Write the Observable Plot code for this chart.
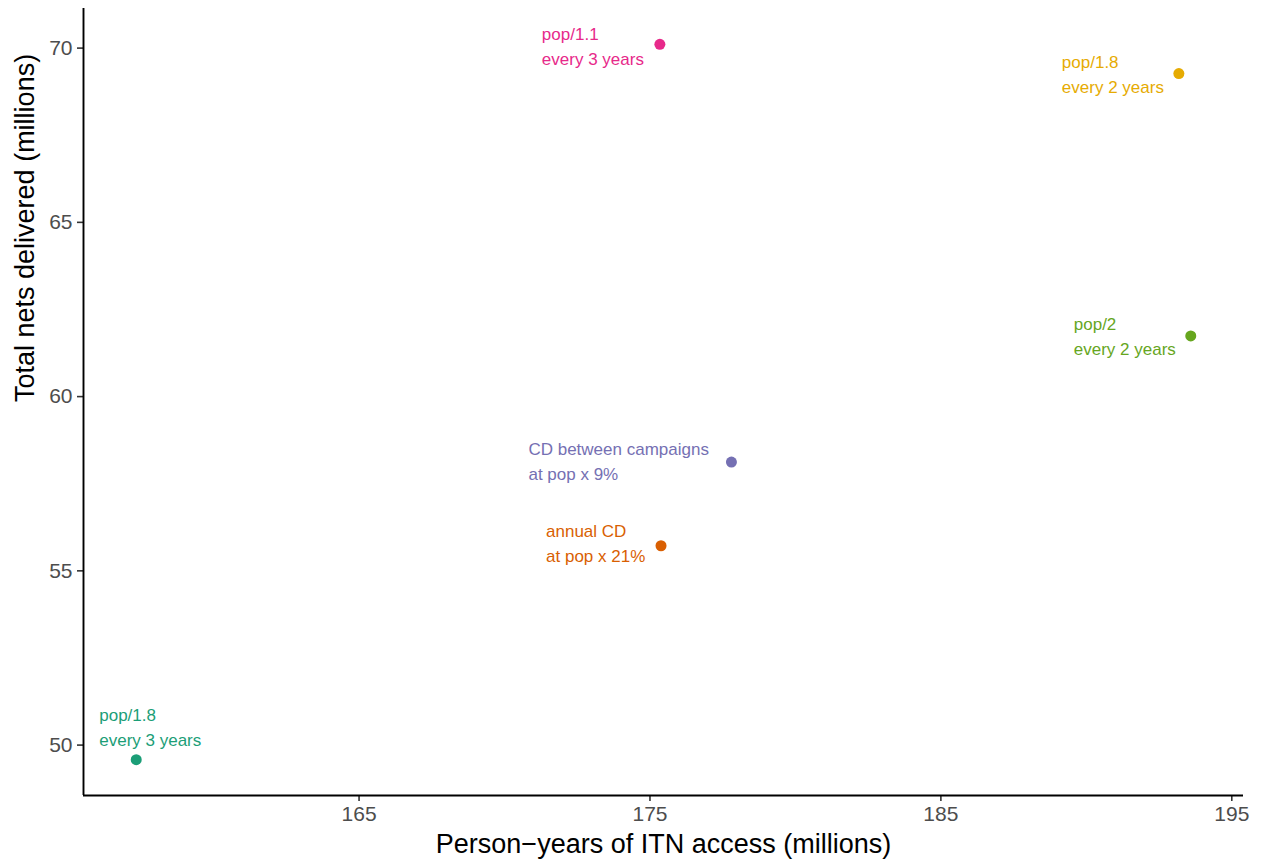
<!DOCTYPE html>
<html>
<head>
<meta charset="utf-8">
<script src="https://cdn.jsdelivr.net/npm/d3@7"></script>
<script src="https://cdn.jsdelivr.net/npm/@observablehq/plot@0.6"></script>
<style>
  body { margin: 0; background: #ffffff; }
  #chart svg { display: block; }
</style>
</head>
<body>
<div id="chart"></div>
<script>
// ---- data ----
const scenarios = [
  "pop/1.8\nevery 3 years",
  "annual CD\nat pop x 21%",
  "CD between campaigns\nat pop x 9%",
  "pop/1.1\nevery 3 years",
  "pop/2\nevery 2 years",
  "pop/1.8\nevery 2 years"
];
const personYears = [157.34, 175.38, 177.80, 175.34, 193.59, 193.18];
const netsDelivered = [49.58, 55.72, 58.12, 70.11, 61.74, 69.27];
const palette = ["#1B9E77", "#D95F02", "#7570B3", "#E7298A", "#66A61E", "#E6AB02"];
const xTicks = [165, 175, 185, 195];
const yTicks = [50, 55, 60, 65, 70];
const xTitle = "Person\u2212years of ITN access (millions)";
const yTitle = "Total nets delivered (millions)";

// ---- label placement (pixel offsets of label block from its point: left edge, first baseline) ----
const labelNudge = [[-37, -44], [-115, -14], [-203, -13], [-118, -10], [-117, -12], [-117, -11]];

const FONT = "'Liberation Sans', Arial, Helvetica, sans-serif";
const labelSize = 17;

const rows = scenarios.map((s, i) => ({label: s, x: personYears[i], y: netsDelivered[i]}));

// ggplot-like 5% expansion
function expand(vals) {
  const [a, b] = d3.extent(vals);
  const e = (b - a) * 0.05;
  return [a - e, b + e];
}
const xDomain = expand(personYears);
const yDomain = expand(netsDelivered);

const labelMarks = rows.map((d, i) => Plot.text([d], {
  x: "x", y: "y", text: "label", fill: "label",
  textAnchor: "start", lineAnchor: "top",
  lineHeight: 1.47,
  fontSize: labelSize,
  dx: labelNudge[i][0],
  dy: labelNudge[i][1] - 0.71 * labelSize
}));

const chart = Plot.plot({
  width: 1264,
  height: 867,
  marginLeft: 83,
  marginRight: 21,
  marginTop: 8,
  marginBottom: 72,
  style: {fontFamily: FONT, background: "#ffffff", color: "#000000"},
  x: {domain: xDomain},
  y: {domain: yDomain},
  color: {domain: scenarios, range: palette},
  marks: [
    Plot.axisX(xTicks, {tickSize: 6, tickPadding: 5, fontSize: 21, stroke: "#333333", fill: "#4D4D4D", strokeWidth: 1.6, label: null}),
    Plot.axisY(yTicks, {tickSize: 6, tickPadding: 5, fontSize: 21, stroke: "#333333", fill: "#4D4D4D", strokeWidth: 1.6, label: null}),
    Plot.ruleX([xDomain[0]], {stroke: "#000000", strokeWidth: 1.9}),
    Plot.ruleY([yDomain[0]], {stroke: "#000000", strokeWidth: 1.9}),
    Plot.dot(rows, {x: "x", y: "y", r: 5.5, fill: "label", stroke: null}),
    ...labelMarks,
    Plot.text([xTitle], {text: d => d, frameAnchor: "bottom", lineAnchor: "middle", dy: 49, fontSize: 27, fill: "#000000"}),
    Plot.text([yTitle], {text: d => d, frameAnchor: "left", rotate: -90, lineAnchor: "middle", dx: -58, fontSize: 27, fill: "#000000"})
  ]
});

document.getElementById("chart").appendChild(chart);
</script>
</body>
</html>
